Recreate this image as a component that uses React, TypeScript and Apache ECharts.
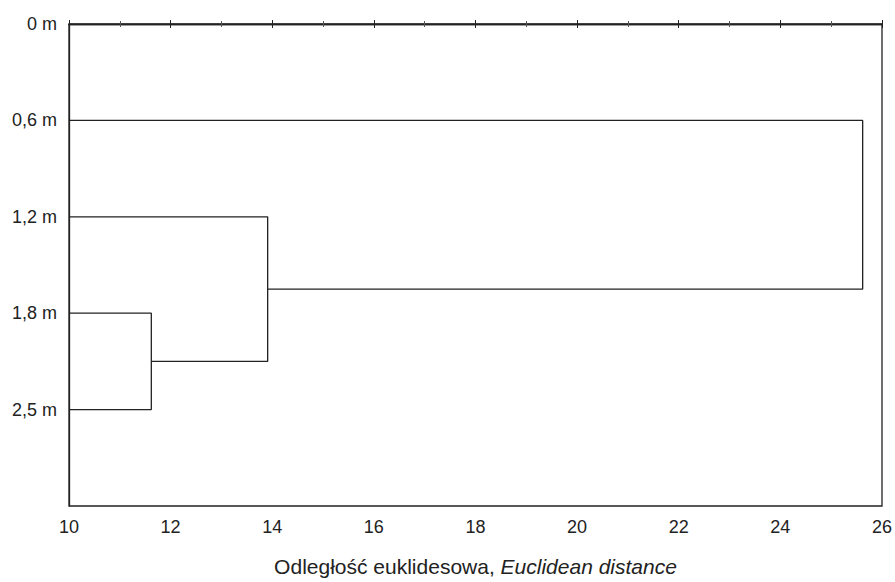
import React, { useEffect, useRef } from "react";
import * as echarts from "echarts";

const leafLabels = ["0 m", "0,6 m", "1,2 m", "1,8 m", "2,5 m"];
// each merge joins two clusters: leaf index (number) or previous merge ("n" + index)
const mergeChildren: (number | string)[][] = [
  [3, 4],
  [2, "n0"],
  [1, "n1"],
];
const mergeDistances = [11.62, 13.91, 25.62];
const xTicks = { min: 10, max: 26, interval: 2 };
const axisTitle = "Odległość euklidesowa, ";
const axisTitleItalic = "Euclidean distance";

const FONT = "'Liberation Sans', Arial, sans-serif";
const LINE = "#222";

export default function App() {
  const ref = useRef<HTMLDivElement>(null);
  useEffect(() => {
    if (!ref.current) return;
    document.body.style.margin = "0";
    const chart = echarts.init(ref.current, undefined, { renderer: "svg" });

    const nodePos: Record<string, { x: number; y: number }> = {};
    const pos = (c: number | string) =>
      typeof c === "number" ? { x: xTicks.min, y: c } : nodePos[c];
    const series: any[] = mergeChildren.map((pair, i) => {
      const a = pos(pair[0]);
      const b = pos(pair[1]);
      const h = mergeDistances[i];
      nodePos["n" + i] = { x: h, y: (a.y + b.y) / 2 };
      return {
        type: "line",
        data: [
          [a.x, a.y],
          [h, a.y],
          [h, b.y],
          [b.x, b.y],
        ],
        showSymbol: false,
        symbol: "none",
        lineStyle: { color: LINE, width: 1.3 },
        silent: true,
      };
    });

    chart.setOption({
      animation: false,
      grid: {
        left: 69,
        right: 10,
        top: 24,
        bottom: 69,
        show: true,
        borderColor: LINE,
        borderWidth: 1.3,
        containLabel: false,
      },
      xAxis: [
        {
          type: "value",
          position: "bottom",
          min: xTicks.min,
          max: xTicks.max,
          interval: xTicks.interval,
          axisLine: { show: true, lineStyle: { color: LINE, width: 1.3 } },
          axisTick: { show: true, inside: true, length: 4, lineStyle: { color: LINE } },
          minorTick: { show: true, splitNumber: 2, length: 3, lineStyle: { color: "#555" } },
          splitLine: { show: false },
          axisLabel: { color: "#222", fontSize: 18, fontFamily: FONT, margin: 12 },
          name: axisTitle + "{i|" + axisTitleItalic + "}",
          nameLocation: "middle",
          nameGap: 50,
          nameTextStyle: {
            color: "#222",
            fontSize: 21,
            fontFamily: FONT,
            rich: { i: { fontStyle: "italic", fontSize: 21, fontFamily: FONT, color: "#222" } },
          },
        },
        {
          type: "value",
          position: "top",
          min: xTicks.min,
          max: xTicks.max,
          interval: xTicks.interval,
          axisLine: { show: true, lineStyle: { color: LINE, width: 1.3 } },
          axisTick: { show: true, inside: true, length: 4, lineStyle: { color: LINE } },
          minorTick: { show: true, splitNumber: 2, length: 3, lineStyle: { color: "#555" } },
          splitLine: { show: false },
          axisLabel: { show: false },
        },
      ],
      yAxis: {
        type: "value",
        inverse: true,
        min: 0,
        max: leafLabels.length,
        interval: 1,
        axisLine: { show: true, lineStyle: { color: LINE, width: 1.3 } },
        axisTick: { show: false },
        splitLine: { show: false },
        axisLabel: {
          color: "#222",
          fontSize: 18,
          fontFamily: FONT,
          margin: 12,
          padding: [0, 0, 4, 0],
          formatter: (v: number) => leafLabels[v] ?? "",
        },
      },
      series,
    });
    return () => chart.dispose();
  }, []);
  return <div ref={ref} style={{ width: 895, height: 582 }} />;
}
